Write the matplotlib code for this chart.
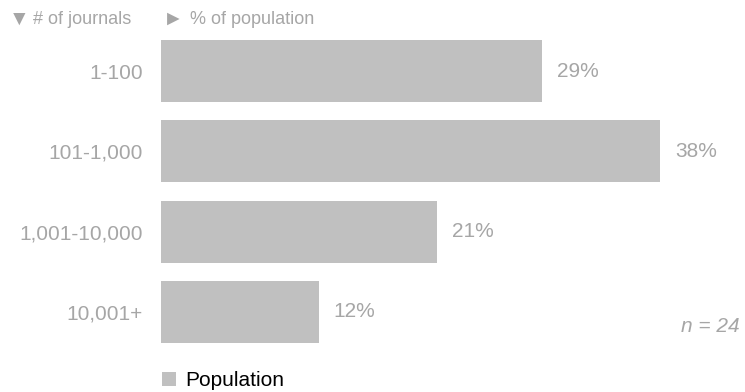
import matplotlib
matplotlib.use("Agg")
import matplotlib.pyplot as plt

# data
categories = ["1-100", "101-1,000", "1,001-10,000", "10,001+"]
population = [29, 38, 21, 12]
n_total = 24

plt.rcParams['font.family'] = ['Liberation Sans', 'DejaVu Sans']

bar_color = '#c0c0c0'
text_gray = '#a6a6a6'
fs = 15

fig = plt.figure(figsize=(7.45, 3.92), dpi=100)
ax = fig.add_axes([161 / 745, 40 / 392, 584 / 745, 321 / 392])

bars = ax.barh(range(len(categories)), population, height=0.77,
               color=bar_color, label='Population')
ax.bar_label(bars, labels=[f"{v}%" for v in population], padding=11,
             color=text_gray, fontsize=fs)

ax.set_xlim(0, 584 / 13.13)
ax.set_ylim(3.5, -0.5)
ax.set_yticks(range(len(categories)), categories)
ax.tick_params(axis='y', length=0, pad=13, labelsize=fs, labelcolor=text_gray)
ax.set_xticks([])
for s in ax.spines.values():
    s.set_visible(False)

# header row: markers drawn a bit larger than the words
hy = 1 - 19 / 392
fig.text(9 / 745, hy, "\u25bc", fontsize=15, color=text_gray, va='center', ha='left')
fig.text(33 / 745, hy, "# of journals", fontsize=13, color=text_gray, va='center', ha='left')
fig.text(163 / 745, hy, "\u25ba", fontsize=15, color=text_gray, va='center', ha='left')
fig.text(190 / 745, hy, "% of population", fontsize=13, color=text_gray, va='center', ha='left')

fig.text(740 / 745, 1 - 327 / 392, f"n = {n_total}", fontsize=fs,
         style='italic', color=text_gray, va='center', ha='right')

fig.legend(loc='center left', bbox_to_anchor=(162 / 745, 1 - 381 / 392),
           frameon=False, fontsize=fs, handlelength=0.68, handleheight=0.68,
           handletextpad=0.45, borderpad=0, borderaxespad=0)

fig.savefig("out.png", dpi=100)
